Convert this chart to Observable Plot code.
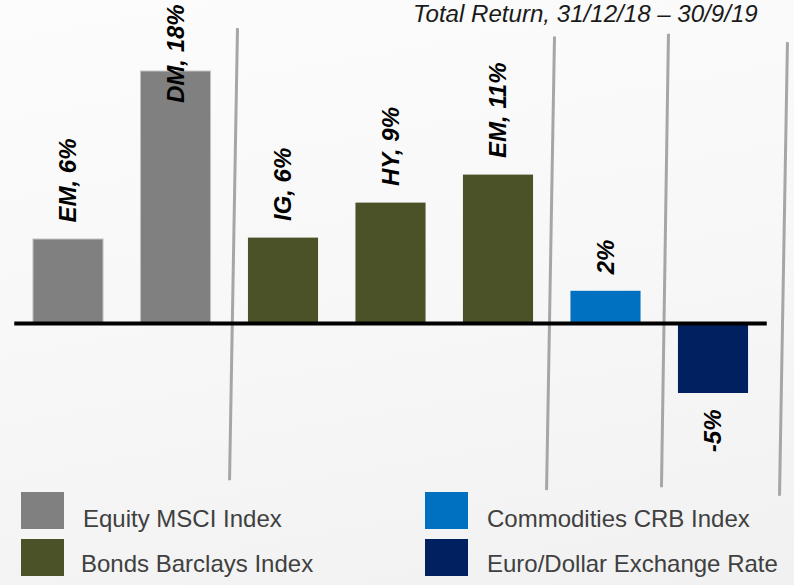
<!DOCTYPE html>
<html>
<head>
<meta charset="utf-8">
<script src="https://cdn.jsdelivr.net/npm/d3@7"></script>
<script src="https://cdn.jsdelivr.net/npm/@observablehq/plot@0.6"></script>
<style>
  html, body { margin: 0; padding: 0; }
  body {
    width: 794px; height: 585px; overflow: hidden;
    background: linear-gradient(170deg, #fcfcfc 0%, #f7f7f7 55%, #f1f1f1 100%);
    font-family: "Liberation Sans", Arial, sans-serif;
  }
  #wrap { position: relative; width: 794px; height: 585px; }
  #title {
    position: absolute; top: 0; left: 413px; line-height: normal;
    font-size: 24.1px; font-style: italic; color: #1a1a1a; white-space: nowrap;
  }
  #legend { position: absolute; top: 0; left: 0; width: 794px; height: 585px; pointer-events: none; }
  .sw { position: absolute; width: 43px; height: 37px; }
  .lab { position: absolute; font-size: 24px; line-height: 24px; color: #404040; white-space: nowrap; }
  svg { overflow: visible; }
</style>
</head>
<body>
<div id="wrap">
  <div id="chart"></div>
  <div id="title"></div>
  <div id="legend"></div>
</div>
<script>
// ---- data ----
const labels = ["EM, 6%", "DM, 18%", "IG, 6%", "HY, 9%", "EM, 11%", "2%", "-5%"];
const values = [6.0, 18.0, 6.1, 8.6, 10.6, 2.3, -5.0];
const groups = ["Equity MSCI Index", "Equity MSCI Index", "Bonds Barclays Index", "Bonds Barclays Index", "Bonds Barclays Index", "Commodities CRB Index", "Euro/Dollar Exchange Rate"];
const groupNames = ["Equity MSCI Index", "Bonds Barclays Index", "Commodities CRB Index", "Euro/Dollar Exchange Rate"];
const groupColors = ["#808080", "#4b5228", "#0070c0", "#002060"];
// separators: position (in bar-index units) at top and bottom, extent in % units
const sepTopX = [1.572, 4.521, 5.581, 6.688];
const sepBotX = [1.498, 4.447, 5.516, 6.614];
const sepTopY = [21.1, 20.5, 20.7, 20.1];
const sepBotY = [-11.2, -11.9, -11.7, -12.3];
const title = "Total Return, 31/12/18 – 30/9/19";

// ---- build ----
const bars = values.map((v, i) => ({i, value: v, label: labels[i], group: groups[i]}));
const seps = sepTopX.map((x, k) => ({x1: x, x2: sepBotX[k], y1: sepTopY[k], y2: sepBotY[k]}));
const half = 0.326;
const yCeil = 22.8;      // top of drawing area (% units)
const pxPerUnit = 14;
const fontSize = 24;
const labelLenEst = (s) => s.length * 0.6 * fontSize;
const fitsAbove = d => d.value >= 0 && (d.value * pxPerUnit + 17 + labelLenEst(d.label)) < yCeil * pxPerUnit;
const above = bars.filter(fitsAbove);
const clamped = bars.filter(d => d.value >= 0 && !fitsAbove(d));
const below = bars.filter(d => d.value < 0);

const textStyle = {
  x: "i", text: "label", rotate: -90,
  fontSize, fontWeight: "bold", fontStyle: "italic", fill: "#000",
  fontFamily: "Liberation Sans, Arial, sans-serif"
};

const plot = Plot.plot({
  width: 794,
  height: 585,
  margin: 0,
  style: {background: "transparent", overflow: "visible"},
  x: {domain: [-0.5, 6.5], range: [14.25, 766.75], axis: null},
  y: {domain: [-10, 20], range: [463, 43], axis: null},
  color: {domain: groupNames, range: groupColors},
  marks: [
    Plot.rectY(bars, {x1: d => d.i - half, x2: d => d.i + half, y1: 0, y2: "value", fill: "group"}),
    Plot.rectY(bars.filter(d => d.group === groupNames[0]), {x1: d => d.i - half, x2: d => d.i + half, y1: 0, y2: "value", fill: "none", stroke: "#c4c4c4", strokeWidth: 1}),
    Plot.link(seps, {x1: "x1", x2: "x2", y1: "y1", y2: "y2", stroke: "#a6a6a6", strokeWidth: 3}),
    Plot.ruleY([0], {x1: -0.5, x2: 6.5, stroke: "#000", strokeWidth: 4}),
    Plot.text(above, {...textStyle, y: "value", textAnchor: "start", dy: -17}),
    Plot.text(clamped, {...textStyle, y: () => yCeil, textAnchor: "end"}),
    Plot.text(below, {...textStyle, y: "value", textAnchor: "end", dy: 16}),
  ]
});
document.getElementById("chart").appendChild(plot);
document.getElementById("title").textContent = title;

// legend (HTML, below/over the plot area)
const legendPos = [
  {name: groupNames[0], sx: 21, sy: 492, tx: 83, ty: 507},
  {name: groupNames[1], sx: 21, sy: 539, tx: 81, ty: 552},
  {name: groupNames[2], sx: 425, sy: 492, tx: 487, ty: 507},
  {name: groupNames[3], sx: 425, sy: 539, tx: 487, ty: 552},
];
const leg = document.getElementById("legend");
for (const p of legendPos) {
  const sw = document.createElement("div");
  sw.className = "sw";
  sw.style.left = p.sx + "px"; sw.style.top = p.sy + "px";
  sw.style.background = groupColors[groupNames.indexOf(p.name)];
  leg.appendChild(sw);
  const lb = document.createElement("div");
  lb.className = "lab";
  lb.style.left = p.tx + "px"; lb.style.top = p.ty + "px";
  lb.textContent = p.name;
  leg.appendChild(lb);
}
</script>
</body>
</html>
